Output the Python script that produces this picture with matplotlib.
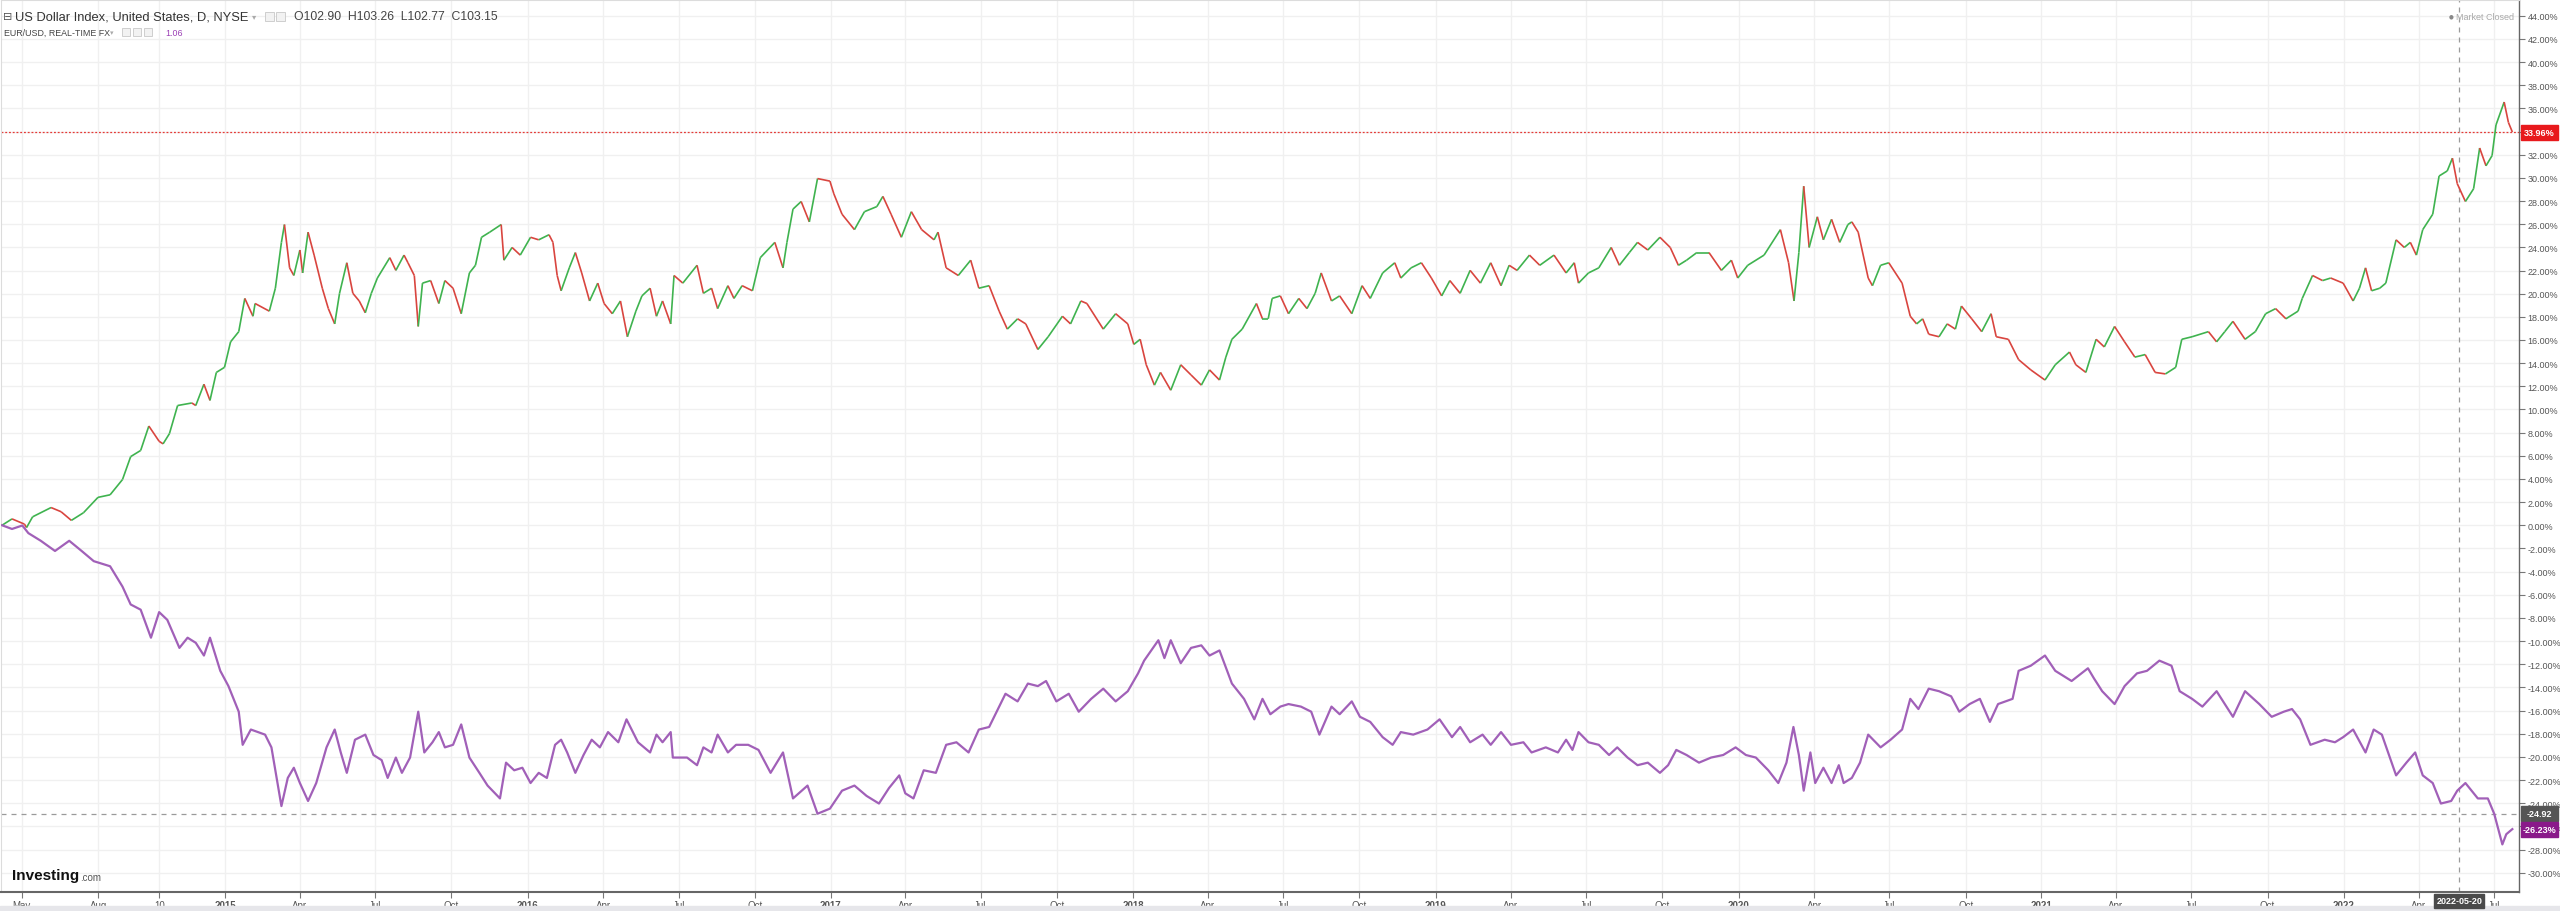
import numpy as np
import pandas as pd
import matplotlib
matplotlib.use("Agg")
import matplotlib.pyplot as plt
from matplotlib.collections import LineCollection
from matplotlib.patches import Rectangle

plt.rcParams["font.family"] = ["Liberation Sans", "DejaVu Sans"]

W, H = 2560, 912

# US Dollar Index, % change since start, x in decimal years
dxy_year = [
    2014.263, 2014.296, 2014.337, 2014.344, 2014.364, 2014.425, 2014.458, 2014.492, 2014.532, 2014.580,
    2014.620, 2014.661, 2014.688, 2014.721, 2014.748, 2014.782, 2014.795, 2014.816, 2014.843, 2014.890,
    2014.903, 2014.930, 2014.950, 2014.971, 2014.998, 2015.018, 2015.045, 2015.065, 2015.092, 2015.099,
    2015.146, 2015.166, 2015.186, 2015.196, 2015.213, 2015.227, 2015.247, 2015.256, 2015.274, 2015.294,
    2015.321, 2015.341, 2015.362, 2015.378, 2015.402, 2015.422, 2015.443, 2015.463, 2015.483, 2015.503,
    2015.544, 2015.564, 2015.591, 2015.604, 2015.625, 2015.638, 2015.652, 2015.679, 2015.706, 2015.726,
    2015.753, 2015.780, 2015.807, 2015.827, 2015.847, 2015.874, 2015.912, 2015.921, 2015.948, 2015.975,
    2016.009, 2016.036, 2016.070, 2016.083, 2016.097, 2016.110, 2016.137, 2016.157, 2016.178, 2016.204,
    2016.231, 2016.252, 2016.279, 2016.306, 2016.329, 2016.357, 2016.377, 2016.404, 2016.425, 2016.445,
    2016.472, 2016.483, 2016.512, 2016.559, 2016.580, 2016.607, 2016.627, 2016.661, 2016.681, 2016.708,
    2016.742, 2016.768, 2016.816, 2016.843, 2016.856, 2016.876, 2016.903, 2016.930, 2016.957, 2016.998,
    2017.011, 2017.038, 2017.079, 2017.112, 2017.153, 2017.173, 2017.200, 2017.234, 2017.267, 2017.301,
    2017.342, 2017.355, 2017.382, 2017.422, 2017.463, 2017.490, 2017.524, 2017.557, 2017.584, 2017.618,
    2017.645, 2017.685, 2017.719, 2017.766, 2017.793, 2017.827, 2017.847, 2017.901, 2017.942, 2017.982,
    2018.002, 2018.023, 2018.043, 2018.070, 2018.090, 2018.124, 2018.157, 2018.191, 2018.225, 2018.252,
    2018.285, 2018.306, 2018.326, 2018.360, 2018.407, 2018.427, 2018.446, 2018.459, 2018.486, 2018.513,
    2018.547, 2018.574, 2018.601, 2018.621, 2018.655, 2018.682, 2018.722, 2018.756, 2018.783, 2018.824,
    2018.864, 2018.884, 2018.918, 2018.952, 2018.985, 2019.019, 2019.046, 2019.080, 2019.113, 2019.147,
    2019.181, 2019.215, 2019.242, 2019.268, 2019.309, 2019.343, 2019.390, 2019.430, 2019.457, 2019.471,
    2019.504, 2019.538, 2019.579, 2019.606, 2019.639, 2019.666, 2019.700, 2019.740, 2019.774, 2019.801,
    2019.828, 2019.862, 2019.902, 2019.943, 2019.976, 2019.997, 2020.030, 2020.084, 2020.138, 2020.165,
    2020.183, 2020.199, 2020.215, 2020.233, 2020.260, 2020.280, 2020.307, 2020.334, 2020.361, 2020.374,
    2020.395, 2020.428, 2020.442, 2020.469, 2020.496, 2020.540, 2020.567, 2020.588, 2020.608, 2020.628,
    2020.662, 2020.689, 2020.716, 2020.736, 2020.770, 2020.803, 2020.834, 2020.851, 2020.891, 2020.925,
    2020.965, 2021.012, 2021.046, 2021.093, 2021.114, 2021.147, 2021.181, 2021.208, 2021.242, 2021.275,
    2021.309, 2021.343, 2021.376, 2021.410, 2021.444, 2021.464, 2021.498, 2021.552, 2021.579, 2021.606,
    2021.633, 2021.673, 2021.707, 2021.741, 2021.774, 2021.808, 2021.848, 2021.862, 2021.896, 2021.929,
    2021.956, 2021.997, 2022.030, 2022.051, 2022.071, 2022.091, 2022.118, 2022.138, 2022.172, 2022.199,
    2022.219, 2022.239, 2022.260, 2022.293, 2022.314, 2022.341, 2022.358, 2022.374, 2022.401, 2022.428,
    2022.448, 2022.469, 2022.489, 2022.502, 2022.529, 2022.543, 2022.556,
]
dxy_pct = [
    0.00, 0.55, 0.10, -0.20, 0.73, 1.53, 1.17, 0.42, 1.08, 2.41,
    2.63, 3.95, 5.93, 6.46, 8.57, 7.25, 7.03, 7.91, 10.34, 10.56,
    10.34, 12.18, 10.78, 13.20, 13.64, 15.84, 16.72, 19.59, 18.05, 19.15,
    18.49, 20.47, 24.43, 25.97, 22.23, 21.57, 23.77, 21.79, 25.31, 23.33,
    20.47, 18.71, 17.39, 20.03, 22.67, 20.03, 19.37, 18.35, 20.03, 21.35,
    23.11, 22.01, 23.33, 22.67, 21.57, 17.17, 20.91, 21.13, 19.15, 21.13,
    20.47, 18.27, 21.79, 22.45, 24.87, 25.31, 25.97, 22.89, 23.99, 23.33,
    24.87, 24.65, 25.09, 24.43, 21.57, 20.25, 22.23, 23.55, 21.79, 19.37,
    20.91, 19.15, 18.27, 19.37, 16.28, 18.49, 19.81, 20.47, 18.05, 19.37,
    17.39, 21.57, 20.91, 22.45, 20.03, 20.47, 18.71, 20.69, 19.59, 20.69,
    20.25, 23.11, 24.43, 22.23, 24.43, 27.30, 27.96, 26.20, 29.94, 29.72,
    28.62, 26.86, 25.53, 27.08, 27.52, 28.40, 26.86, 24.87, 27.08, 25.53,
    24.65, 25.31, 22.23, 21.57, 22.89, 20.47, 20.69, 18.49, 16.94, 17.83,
    17.39, 15.18, 16.28, 18.05, 17.39, 19.37, 19.15, 16.94, 18.27, 17.39,
    15.62, 16.06, 13.86, 12.10, 13.20, 11.66, 13.86, 12.98, 12.10, 13.42,
    12.54, 14.52, 16.06, 16.94, 19.15, 17.83, 17.83, 19.59, 19.81, 18.27,
    19.59, 18.71, 20.03, 21.79, 19.37, 19.81, 18.27, 20.69, 19.59, 21.79,
    22.67, 21.35, 22.23, 22.67, 21.35, 19.81, 21.13, 20.03, 22.01, 20.91,
    22.67, 20.69, 22.45, 22.01, 23.33, 22.45, 23.33, 21.79, 22.67, 20.91,
    21.79, 22.23, 23.99, 22.45, 23.55, 24.43, 23.77, 24.87, 23.99, 22.45,
    22.89, 23.55, 23.55, 22.01, 22.89, 21.35, 22.45, 23.33, 25.53, 22.67,
    19.37, 23.55, 29.28, 23.99, 26.64, 24.65, 26.42, 24.43, 25.97, 26.20,
    25.31, 21.35, 20.69, 22.45, 22.67, 20.91, 18.05, 17.39, 17.83, 16.50,
    16.28, 17.39, 16.94, 18.93, 17.83, 16.72, 18.27, 16.28, 16.06, 14.30,
    13.42, 12.54, 13.86, 14.96, 13.86, 13.20, 16.06, 15.40, 17.17, 15.84,
    14.52, 14.74, 13.20, 13.07, 13.64, 16.06, 16.28, 16.72, 15.84, 16.72,
    17.61, 16.06, 16.72, 18.27, 18.71, 17.83, 18.49, 19.59, 21.57, 21.13,
    21.35, 20.91, 19.37, 20.47, 22.23, 20.25, 20.47, 20.91, 24.65, 23.99,
    24.43, 23.33, 25.53, 26.86, 30.16, 30.60, 31.70, 29.50, 27.96, 29.06,
    32.58, 31.04, 31.92, 34.57, 36.55, 34.79, 33.96,
]

# EUR/USD, % change since start
eur_year = [
    2014.263, 2014.296, 2014.330, 2014.350, 2014.391, 2014.438, 2014.485, 2014.526, 2014.566, 2014.620,
    2014.661, 2014.688, 2014.721, 2014.755, 2014.782, 2014.809, 2014.849, 2014.876, 2014.903, 2014.930,
    2014.950, 2014.984, 2015.011, 2015.045, 2015.058, 2015.085, 2015.132, 2015.153, 2015.186, 2015.207,
    2015.227, 2015.247, 2015.274, 2015.301, 2015.335, 2015.362, 2015.382, 2015.402, 2015.429, 2015.463,
    2015.490, 2015.517, 2015.537, 2015.564, 2015.584, 2015.611, 2015.638, 2015.658, 2015.685, 2015.706,
    2015.726, 2015.753, 2015.780, 2015.807, 2015.840, 2015.867, 2015.908, 2015.928, 2015.955, 2015.982,
    2016.009, 2016.036, 2016.063, 2016.090, 2016.110, 2016.130, 2016.157, 2016.184, 2016.211, 2016.238,
    2016.265, 2016.299, 2016.326, 2016.364, 2016.404, 2016.425, 2016.445, 2016.472, 2016.479, 2016.526,
    2016.559, 2016.580, 2016.607, 2016.627, 2016.661, 2016.688, 2016.728, 2016.762, 2016.802, 2016.843,
    2016.876, 2016.924, 2016.957, 2016.998, 2017.038, 2017.079, 2017.119, 2017.160, 2017.193, 2017.227,
    2017.247, 2017.274, 2017.308, 2017.348, 2017.382, 2017.416, 2017.456, 2017.490, 2017.524, 2017.578,
    2017.618, 2017.652, 2017.685, 2017.712, 2017.746, 2017.787, 2017.820, 2017.861, 2017.901, 2017.942,
    2017.982, 2018.016, 2018.036, 2018.083, 2018.103, 2018.124, 2018.157, 2018.191, 2018.225, 2018.252,
    2018.285, 2018.326, 2018.366, 2018.400, 2018.427, 2018.453, 2018.486, 2018.513, 2018.554, 2018.588,
    2018.615, 2018.655, 2018.682, 2018.722, 2018.749, 2018.783, 2018.824, 2018.857, 2018.884, 2018.925,
    2018.972, 2019.012, 2019.053, 2019.080, 2019.113, 2019.154, 2019.181, 2019.215, 2019.248, 2019.289,
    2019.316, 2019.363, 2019.403, 2019.430, 2019.451, 2019.471, 2019.504, 2019.538, 2019.572, 2019.599,
    2019.633, 2019.666, 2019.700, 2019.740, 2019.767, 2019.794, 2019.828, 2019.869, 2019.909, 2019.949,
    2019.990, 2020.024, 2020.057, 2020.098, 2020.131, 2020.158, 2020.181, 2020.199, 2020.215, 2020.237,
    2020.253, 2020.280, 2020.307, 2020.331, 2020.347, 2020.374, 2020.401, 2020.428, 2020.469, 2020.502,
    2020.540, 2020.567, 2020.594, 2020.628, 2020.662, 2020.702, 2020.729, 2020.763, 2020.797, 2020.830,
    2020.857, 2020.905, 2020.925, 2020.965, 2021.012, 2021.046, 2021.100, 2021.154, 2021.174, 2021.201,
    2021.242, 2021.275, 2021.316, 2021.349, 2021.390, 2021.430, 2021.457, 2021.498, 2021.532, 2021.579,
    2021.633, 2021.673, 2021.720, 2021.761, 2021.801, 2021.828, 2021.855, 2021.889, 2021.936, 2021.970,
    2021.997, 2022.030, 2022.071, 2022.098, 2022.125, 2022.172, 2022.206, 2022.235, 2022.260, 2022.293,
    2022.320, 2022.354, 2022.374, 2022.401, 2022.442, 2022.475, 2022.496, 2022.523, 2022.536, 2022.556,
]
eur_pct = [
    0.00, -0.32, -0.02, -0.68, -1.34, -2.22, -1.34, -2.22, -3.10, -3.54,
    -5.30, -6.84, -7.29, -9.71, -7.50, -8.17, -10.59, -9.71, -10.15, -11.25,
    -9.71, -12.57, -13.89, -16.10, -18.96, -17.64, -18.08, -19.18, -24.25, -21.82,
    -20.94, -22.26, -23.81, -22.26, -19.18, -17.64, -19.62, -21.38, -18.52, -18.08,
    -19.84, -20.28, -21.82, -20.06, -21.38, -20.06, -16.10, -19.62, -18.74, -17.86,
    -19.18, -18.96, -17.20, -20.06, -21.38, -22.48, -23.59, -20.50, -21.16, -20.94,
    -22.26, -21.38, -21.82, -18.96, -18.52, -19.62, -21.38, -19.84, -18.52, -19.18,
    -17.86, -18.74, -16.76, -18.74, -19.62, -18.08, -18.74, -17.86, -20.06, -20.06,
    -20.72, -19.18, -19.62, -18.08, -19.62, -18.96, -18.96, -19.40, -21.38, -19.62,
    -23.59, -22.48, -24.91, -24.47, -22.92, -22.48, -23.37, -24.03, -22.70, -21.60,
    -23.15, -23.59, -21.16, -21.38, -18.96, -18.74, -19.62, -17.64, -17.42, -14.55,
    -15.21, -13.67, -13.89, -13.45, -15.21, -14.55, -16.10, -14.99, -14.11, -15.21,
    -14.33, -12.79, -11.69, -9.93, -11.47, -9.93, -11.91, -10.59, -10.37, -11.25,
    -10.81, -13.67, -14.99, -16.76, -14.99, -16.32, -15.66, -15.44, -15.66, -16.10,
    -18.08, -15.66, -16.32, -15.21, -16.54, -16.98, -18.30, -18.96, -17.86, -18.08,
    -17.64, -16.76, -18.30, -17.42, -18.74, -18.08, -18.96, -17.86, -18.96, -18.74,
    -19.62, -19.18, -19.62, -18.52, -19.40, -17.86, -18.74, -18.96, -19.84, -19.18,
    -20.06, -20.72, -20.50, -21.38, -20.72, -19.40, -19.84, -20.50, -20.06, -19.84,
    -19.18, -19.84, -20.06, -21.16, -22.26, -20.50, -17.42, -19.84, -22.92, -19.62,
    -22.26, -20.94, -22.26, -20.72, -22.26, -21.82, -20.50, -18.08, -19.18, -18.52,
    -17.64, -14.99, -15.87, -14.11, -14.33, -14.77, -16.10, -15.44, -14.99, -16.98,
    -15.44, -14.99, -12.57, -12.13, -11.25, -12.57, -13.45, -12.35, -13.23, -14.33,
    -15.44, -13.89, -12.79, -12.57, -11.69, -12.13, -14.33, -14.99, -15.66, -14.33,
    -16.54, -14.33, -15.44, -16.54, -16.10, -15.87, -16.76, -18.96, -18.52, -18.74,
    -18.30, -17.64, -19.62, -17.64, -18.08, -21.60, -20.50, -19.62, -21.60, -22.26,
    -24.03, -23.81, -22.92, -22.26, -23.59, -23.59, -24.91, -27.56, -26.68, -26.24,
]

tick_labels = ["May", "Aug", "10", "2015", "Apr", "Jul", "Oct", "2016", "Apr", "Jul", "Oct",
               "2017", "Apr", "Jul", "Oct", "2018", "Apr", "Jul", "Oct", "2019", "Apr", "Jul", "Oct",
               "2020", "Apr", "Jul", "Oct", "2021", "Apr", "Jul", "Oct", "2022", "Apr", "Jul"]
tick_dates = ["2014-05-01", "2014-08-01", "2014-10-14", "2015-01-01", "2015-04-01", "2015-07-01",
              "2015-10-01", "2016-01-01", "2016-04-01", "2016-07-01", "2016-10-01", "2017-01-01",
              "2017-04-01", "2017-07-01", "2017-10-01", "2018-01-01", "2018-04-01", "2018-07-01",
              "2018-10-01", "2019-01-01", "2019-04-01", "2019-07-01", "2019-10-01", "2020-01-01",
              "2020-04-01", "2020-07-01", "2020-10-01", "2021-01-01", "2021-04-01", "2021-07-01",
              "2021-10-01", "2022-01-01", "2022-04-01", "2022-07-01"]
pct_ticks = list(range(-30, 46, 2))

dxy_last = 33.96
eur_last = -26.23
cross_pct = -24.92
cross_date = "2022-05-20"


def dec_year(s):
    ts = pd.Timestamp(s)
    return ts.year + (ts.dayofyear - 1) / 365.25


def fx(x):
    return x / W


def fy(y):
    return 1 - y / H


fig = plt.figure(figsize=(W / 100, H / 100), dpi=100)
ax = fig.add_axes([fx(1), fy(893), fx(2518), 892 / H])
ax.set_xlim(2014.2596, 2022.578)
ax.set_ylim(-31.67, 45.36)

# grid
for t in tick_dates:
    ax.axvline(dec_year(t), color="#f0f0f0", lw=1, zorder=0)
for v in pct_ticks:
    ax.axhline(v, color="#f0f0f0", lw=1, zorder=0)

# dollar index: segments green when rising, red when falling
xs = np.array(dxy_year)
ys = np.array(dxy_pct)
segs = np.stack([np.column_stack([xs[:-1], ys[:-1]]), np.column_stack([xs[1:], ys[1:]])], axis=1)
cols = ["#3fb34f" if b >= a else "#d9453f" for a, b in zip(ys[:-1], ys[1:])]
ax.add_collection(LineCollection(segs, colors=cols, linewidths=1.2, zorder=3))

ax.plot(eur_year, eur_pct, color="#a160b8", lw=1.6, zorder=3)

# price line + crosshair
ax.axhline(dxy_last, color="#e53935", lw=0.9, ls=(0, (1.5, 1.5)), zorder=2)
ax.axhline(cross_pct, color="#9a9a9a", lw=0.9, ls=(0, (4, 4)), zorder=2)
ax.axvline(dec_year(cross_date), color="#9a9a9a", lw=0.9, ls=(0, (4, 4)), zorder=2)

# axes styling
ax.yaxis.tick_right()
ax.set_yticks(pct_ticks)
ax.set_yticklabels([f"{v:.2f}%" for v in pct_ticks])
ax.set_xticks([dec_year(t) for t in tick_dates])
ax.set_xticklabels(tick_labels)
for lab in ax.get_xticklabels():
    if lab.get_text().isdigit() and len(lab.get_text()) == 4:
        lab.set_fontweight("bold")
ax.tick_params(axis="y", length=4, width=0.8, color="#777", labelsize=6.5,
               labelcolor="#555", pad=2)
ax.tick_params(axis="x", length=4, width=0.8, color="#777", labelsize=7,
               labelcolor="#555", pad=2)
for s in ("top", "left"):
    ax.spines[s].set_color("#dcdcdc")
    ax.spines[s].set_linewidth(0.8)
ax.spines["bottom"].set_color("#666")
ax.spines["bottom"].set_linewidth(1.5)
ax.spines["right"].set_color("#666")
ax.spines["right"].set_linewidth(1.0)


# value tags on the right axis
def tag(v, text, bg):
    y = ax.transData.transform((0, v))[1]
    fig.patches.append(Rectangle((fx(2521), y / H - 7.5 / H), 37 / W, 15 / H,
                                 transform=fig.transFigure, color=bg, zorder=5))
    fig.text(fx(2539.5), y / H, text, color="white", fontsize=6.5, fontweight="bold",
             va="center", ha="center", zorder=6)


tag(dxy_last, f"{dxy_last:.2f}%", "#e8191c")
tag(cross_pct, f"{cross_pct:.2f}", "#555555")
tag(eur_last, f"{eur_last:.2f}%", "#8a1a8a")

# date tag on the x axis
xd = ax.transData.transform((dec_year(cross_date), 0))[0]
fig.patches.append(Rectangle(((xd - 25) / W, fy(909)), 50 / W, 14 / H,
                             transform=fig.transFigure, color="#4a4a4a", zorder=5))
fig.text(xd / W, fy(902), cross_date, color="white", fontsize=6.5, fontweight="bold",
         ha="center", va="center", zorder=6)

# bottom band
fig.patches.append(Rectangle((0, 0), 1, 5 / H, transform=fig.transFigure,
                             color="#e6e6ea", zorder=0))

# header
fig.text(fx(3), fy(17), "\u229f", fontsize=8, color="#555", va="center",
         family="DejaVu Sans")
fig.text(fx(15), fy(17), "US Dollar Index, United States, D, NYSE", fontsize=9.3,
         color="#333", va="center")
fig.text(fx(252), fy(17), "\u25be", fontsize=6, color="#aaa", va="center",
         family="DejaVu Sans")
for x in (265, 276):
    fig.patches.append(Rectangle((fx(x), fy(22)), 9 / W, 9 / H, transform=fig.transFigure,
                                 facecolor="#f2f2f2", edgecolor="#c8c8c8", lw=0.6))
fig.text(fx(294), fy(17), "O102.90  H103.26  L102.77  C103.15", fontsize=8.8,
         color="#444", va="center")
fig.text(fx(4), fy(33), "EUR/USD, REAL-TIME FX", fontsize=6.4, color="#444", va="center")
fig.text(fx(110), fy(33), "\u25be", fontsize=5, color="#aaa", va="center",
         family="DejaVu Sans")
for x in (122, 133, 144):
    fig.patches.append(Rectangle((fx(x), fy(37)), 8 / W, 8 / H, transform=fig.transFigure,
                                 facecolor="#f2f2f2", edgecolor="#c8c8c8", lw=0.6))
fig.text(fx(165), fy(33), "1.06", fontsize=6.4, color="#9b3fb5", va="center")

# market status
fig.text(fx(2451), fy(17), "\u25cf", fontsize=4, color="#888", va="center", ha="center",
         family="DejaVu Sans")
fig.text(fx(2456), fy(17), "Market Closed", fontsize=6.5, color="#aaa", va="center")

# logo
fig.text(fx(12), fy(876), "Investing", fontsize=11, fontweight="bold", color="#111",
         va="center")
fig.text(fx(80), fy(878), ".com", fontsize=7, color="#555", va="center")

fig.savefig("out.png", dpi=100, facecolor="white")
